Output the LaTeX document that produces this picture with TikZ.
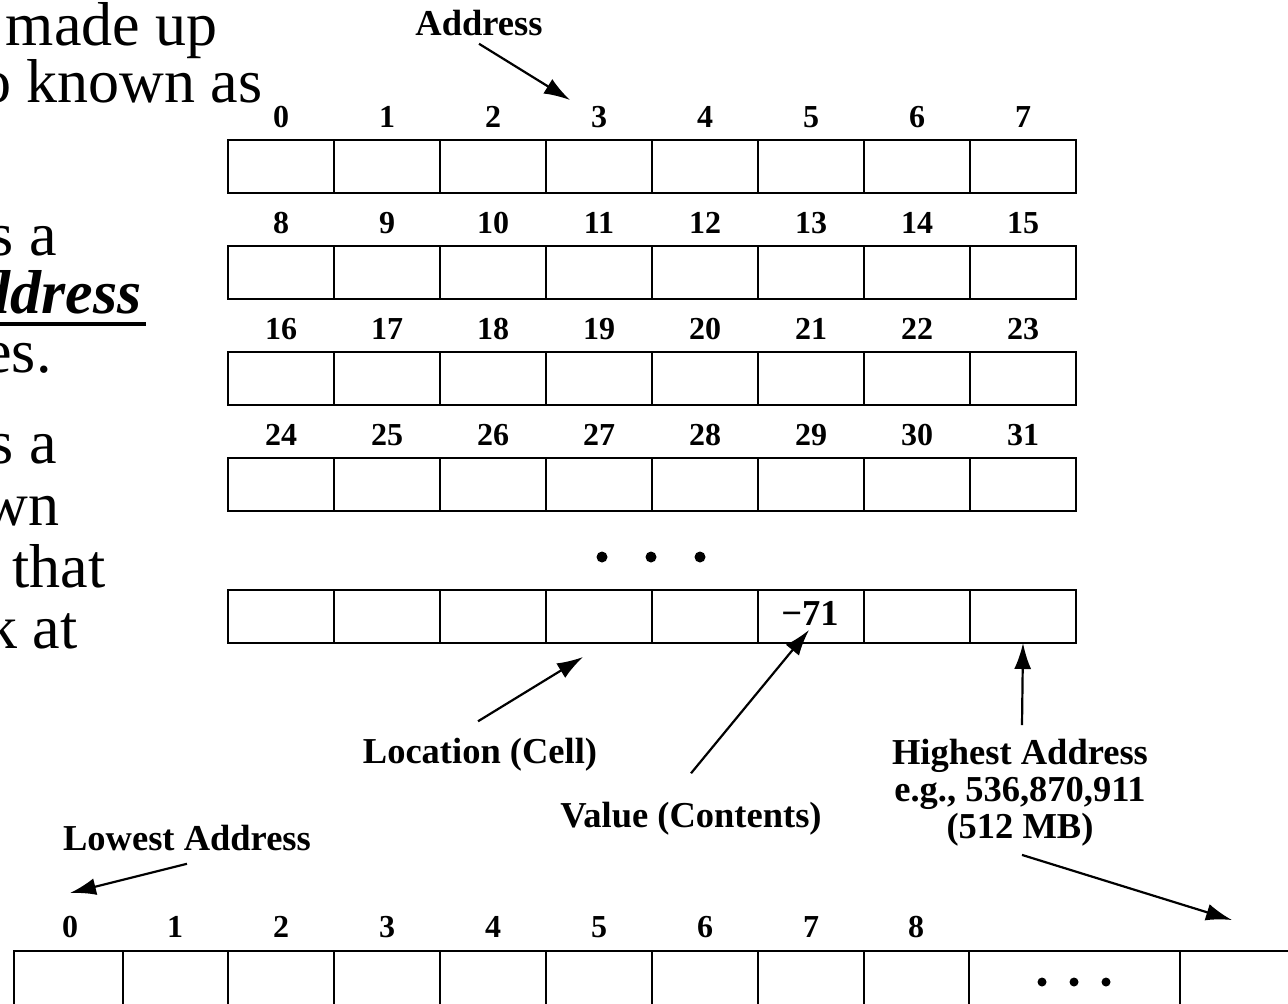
\documentclass[tikz,border=0pt]{standalone}
\usepackage{fontspec}
\setmainfont{Liberation Serif}
\usetikzlibrary{arrows.meta}
\begin{document}
\begin{tikzpicture}[x=0.5pt,y=-0.5pt,
  cell/.style={draw,line width=1.1pt,minimum width=53pt,minimum height=26.5pt,inner sep=0pt,outer sep=0pt,anchor=north west},
  bcell/.style={draw,line width=1.1pt,minimum height=40pt,inner sep=0pt,outer sep=0pt,anchor=north west},
  num/.style={font=\bfseries\fontsize{16}{16}\selectfont,anchor=base,inner sep=0pt},
  lbl/.style={font=\bfseries\fontsize{18.25}{18.5}\selectfont,inner sep=0pt},
  lefttext/.style={font=\fontsize{31}{34}\selectfont,anchor=base east,inner sep=0pt},
  conn/.style={-{Latex[length=13pt,width=8.5pt]},line width=1.1pt},
  dot/.style={fill=black,circle,inner sep=0pt,minimum size=5.5pt}]
\useasboundingbox (0,0) rectangle (1288,1003);
\clip (0,0) rectangle (1288,1003);
% left slide text (cut off)
\node[lefttext] (t1) at (218,45) {made up};
\node[lefttext] (t2) at (263,102) {o known as};
\node[lefttext] (t3) at (57,255) {s a};
\node[lefttext,font=\bfseries\itshape\fontsize{31}{34}\selectfont] (ul) at (142,313) {ddress};
\draw[line width=2pt] ([yshift=-5.5pt]ul.base west) -- ([yshift=-5.5pt,xshift=2pt]ul.base east);
\node[lefttext] (t4) at (52,372) {es.};
\node[lefttext] (t5) at (57,463) {s a};
\node[lefttext] (t6) at (60,525) {wn};
\node[lefttext] (t7) at (106,587) {that};
\node[lefttext] (t8) at (78,648) {k at};
% top grid
\foreach \r/\y/\b in {1/140/0,2/246/8,3/352/16,4/458/24}{
  \foreach \i in {0,...,7}{
    \node[cell] (r\r c\i) at ({228+106*\i},\y) {};
    \pgfmathtruncatemacro\lab{\b+\i}
    \node[num] (n\r c\i) at ({281+106*\i},{\y-13}) {\lab};
  }
}
\foreach \i in {0,...,7}{
  \node[cell] (r5c\i) at ({228+106*\i},590) {};
}
\node[dot] (d1) at (602,557) {};
\node[dot] (d2) at (651,557) {};
\node[dot] (d3) at (700,557) {};
\node[lbl,anchor=base] (val) at (810,625) {−71};
% annotations
\node[lbl,anchor=base] (addr) at (479,35) {Address};
\coordinate (addrtip) at (570,100);
\draw[conn] ([yshift=-4pt]addr.south) -- (addrtip);
\node[lbl,anchor=base] (loc) at (480,763) {Location (Cell)};
\coordinate (loctip) at (583,657);
\draw[conn] ([yshift=8pt,xshift=-1pt]loc.north) -- (loctip);
\node[lbl,anchor=base] (vc) at (691,827) {Value (Contents)};
\coordinate (vtip) at (809,630);
\draw[conn] ([yshift=14pt]vc.north) -- (vtip);
\node[lbl,anchor=north,align=center] (high) at (1020,739) {Highest Address\\e.g., 536,870,911\\(512 MB)};
\draw[conn] ([yshift=7pt,xshift=1pt]high.north) -- (r5c7.south);
\coordinate (htip) at (1232,920);
\draw[conn] ([yshift=-4pt,xshift=1pt]high.south) -- (htip);
\node[lbl,anchor=base] (low) at (187,850) {Lowest Address};
\coordinate (lowtip) at (70,893);
\draw[conn] ([yshift=-6.5pt]low.south) -- (lowtip);
% bottom row
\foreach \a/\b [count=\k from 0] in {14/123,123/228,228/334,334/440,440/546,546/652,652/758,758/864,864/969,969/1180,1180/1292}{
  \pgfmathsetmacro\w{(\b-\a)*0.5}
  \node[bcell,minimum width=\w pt] (b\k) at (\a,951) {};
}
\foreach \i/\x in {0/70,1/175,2/281,3/387,4/493,5/599,6/705,7/811,8/916}{
  \node[num] (bn\i) at (\x,937) {\i};
}
\node[dot,minimum size=4.5pt] (e1) at (1042,982) {};
\node[dot,minimum size=4.5pt] (e2) at (1074,982) {};
\node[dot,minimum size=4.5pt] (e3) at (1106,982) {};
\end{tikzpicture}
\end{document}
